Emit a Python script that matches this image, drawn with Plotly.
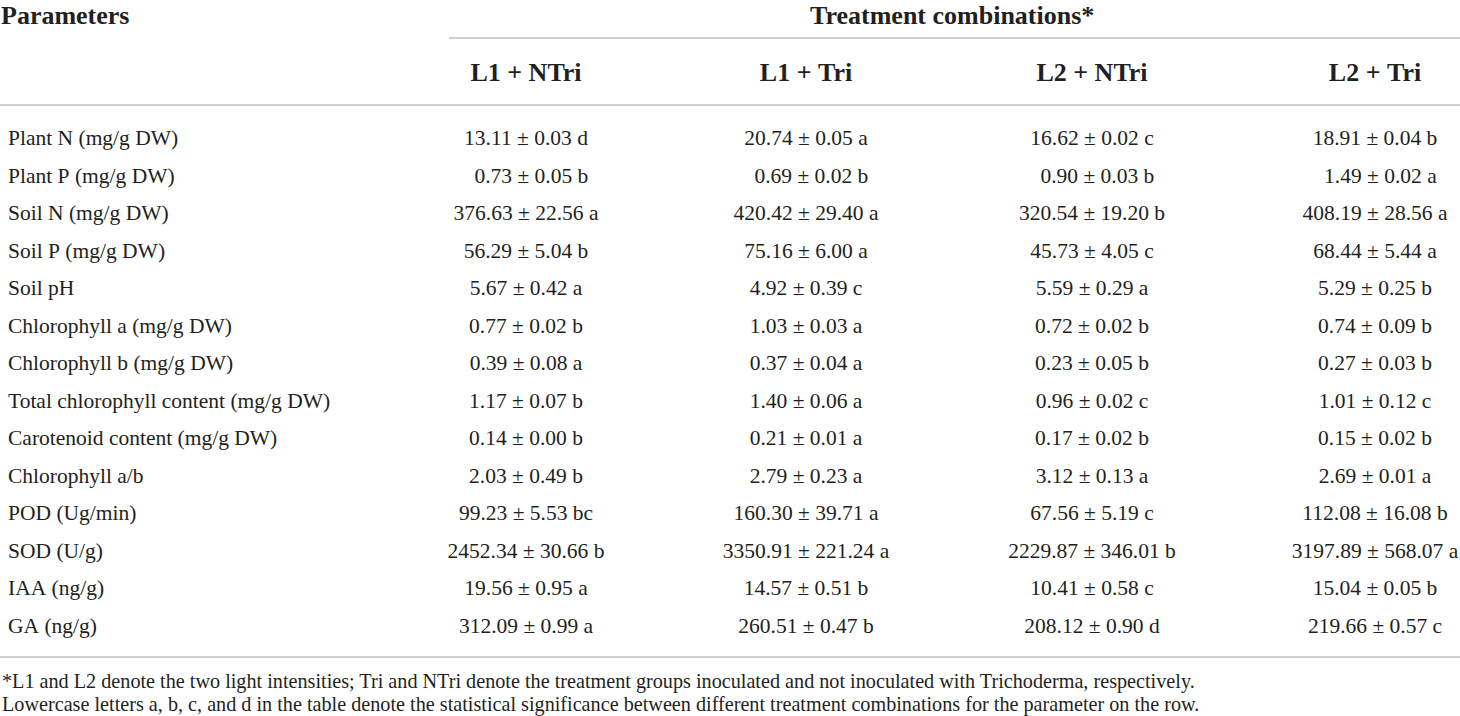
import plotly.graph_objects as go

# Table data (mean ± SD, significance letter)
params = [
    "Plant N (mg/g DW)", "Plant P (mg/g DW)", "Soil N (mg/g DW)", "Soil P (mg/g DW)",
    "Soil pH", "Chlorophyll a (mg/g DW)", "Chlorophyll b (mg/g DW)",
    "Total chlorophyll content (mg/g DW)", "Carotenoid content (mg/g DW)",
    "Chlorophyll a/b", "POD (Ug/min)", "SOD (U/g)", "IAA (ng/g)", "GA (ng/g)",
]
groups = ["L1 + NTri", "L1 + Tri", "L2 + NTri", "L2 + Tri"]

l1_ntri = ["13.11 ± 0.03 d", "\u20070.73 ± 0.05 b", "376.63 ± 22.56 a", "56.29 ± 5.04 b",
           "5.67 ± 0.42 a", "0.77 ± 0.02 b", "0.39 ± 0.08 a", "1.17 ± 0.07 b",
           "0.14 ± 0.00 b", "2.03 ± 0.49 b", "99.23 ± 5.53 bc", "2452.34 ± 30.66 b",
           "19.56 ± 0.95 a", "312.09 ± 0.99 a"]
l1_tri = ["20.74 ± 0.05 a", "\u20070.69 ± 0.02 b", "420.42 ± 29.40 a", "75.16 ± 6.00 a",
          "4.92 ± 0.39 c", "1.03 ± 0.03 a", "0.37 ± 0.04 a", "1.40 ± 0.06 a",
          "0.21 ± 0.01 a", "2.79 ± 0.23 a", "160.30 ± 39.71 a", "3350.91 ± 221.24 a",
          "14.57 ± 0.51 b", "260.51 ± 0.47 b"]
l2_ntri = ["16.62 ± 0.02 c", "\u20070.90 ± 0.03 b", "320.54 ± 19.20 b", "45.73 ± 4.05 c",
           "5.59 ± 0.29 a", "0.72 ± 0.02 b", "0.23 ± 0.05 b", "0.96 ± 0.02 c",
           "0.17 ± 0.02 b", "3.12 ± 0.13 a", "67.56 ± 5.19 c", "2229.87 ± 346.01 b",
           "10.41 ± 0.58 c", "208.12 ± 0.90 d"]
l2_tri = ["18.91 ± 0.04 b", "\u20071.49 ± 0.02 a", "408.19 ± 28.56 a", "68.44 ± 5.44 a",
          "5.29 ± 0.25 b", "0.74 ± 0.09 b", "0.27 ± 0.03 b", "1.01 ± 0.12 c",
          "0.15 ± 0.02 b", "2.69 ± 0.01 a", "112.08 ± 16.08 b", "3197.89 ± 568.07 a",
          "15.04 ± 0.05 b", "219.66 ± 0.57 c"]

footnotes = [
    "*L1 and L2 denote the two light intensities; Tri and NTri denote the treatment groups "
    "inoculated and not inoculated with Trichoderma, respectively.",
    "Lowercase letters a, b, c, and d in the table denote the statistical significance "
    "between different treatment combinations for the parameter on the row.",
]

W, H = 1460, 716
FONT = "Liberation Serif"
INK = "#231f20"
RULE = "#cfcfcf"


def nb(s):
    # keep each cell on one line
    return s.replace(" ", "\u00a0")


def py(px):
    return 1 - px / H


columns = [params, l1_ntri, l1_tri, l2_ntri, l2_tri]

fig = go.Figure(go.Table(
    columnwidth=[334, 384, 176, 396, 170],
    header=dict(
        values=[""] + ["<b>" + nb(g) + "</b>" for g in groups],
        align=["left", "center", "center", "center", "center"],
        font=dict(family=FONT, size=26, color=INK),
        fill=dict(color="white"),
        line=dict(width=0, color="white"),
        height=71,
    ),
    cells=dict(
        values=[[nb(v) for v in col] for col in columns],
        align=["left", "center", "center", "center", "center"],
        font=dict(family=FONT, size=21.5, color=INK),
        fill=dict(color="white"),
        line=dict(width=0, color="white"),
        height=37.5,
    ),
    domain=dict(x=[0, 1], y=[0, py(50)]),
))

# horizontal rules
rules = [(449, 38), (0, 105), (0, 657)]
for x0, yy in rules:
    fig.add_shape(type="line", xref="paper", yref="paper",
                  x0=x0 / W, x1=1, y0=py(yy), y1=py(yy),
                  line=dict(color=RULE, width=2))

fig.add_annotation(text="<b>Parameters</b>", x=0, y=1, xref="paper", yref="paper",
                   xanchor="left", yanchor="top", showarrow=False, borderpad=0,
                   font=dict(family=FONT, size=26, color=INK))
fig.add_annotation(text="<b>Treatment combinations*</b>", x=952 / W, y=1,
                   xref="paper", yref="paper", xanchor="center", yanchor="top",
                   showarrow=False, borderpad=0,
                   font=dict(family=FONT, size=26, color=INK))
for i, note in enumerate(footnotes):
    fig.add_annotation(text=note, x=0, y=py(681 + 23 * i), xref="paper", yref="paper",
                       xanchor="left", yanchor="middle", showarrow=False,
                       font=dict(family=FONT, size=20.2, color=INK))

fig.update_layout(
    width=W, height=H,
    margin=dict(l=0, r=0, t=0, b=0),
    paper_bgcolor="white",
    plot_bgcolor="white",
)

fig.write_html("out.html", config={"displayModeBar": False},
               post_script="document.body.style.margin='0';")
